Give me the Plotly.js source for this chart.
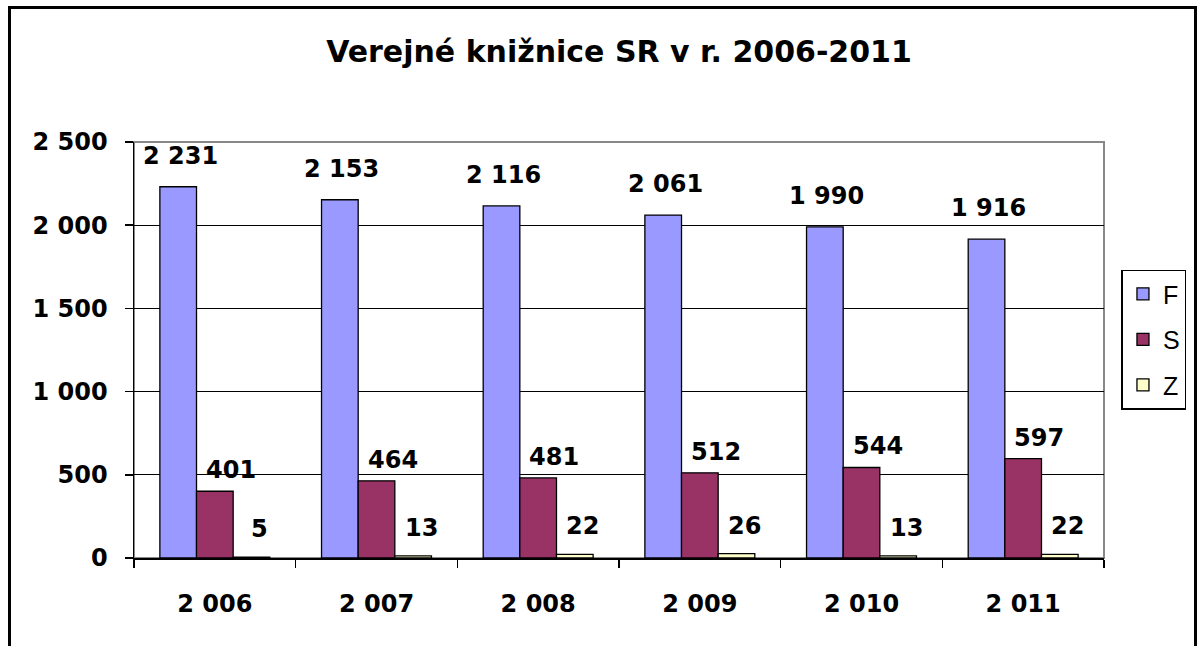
<!DOCTYPE html>
<html>
<head>
<meta charset="utf-8">
<script src="https://cdn.plot.ly/plotly-3.0.1.min.js"></script>
<style>
html,body{margin:0;padding:0;background:#fff;}
#wrap{position:relative;width:1199px;height:646px;}
#chart{width:1199px;height:646px;}
#frame{position:absolute;left:8px;top:6px;width:1189px;height:646px;border:3px solid #000;box-sizing:border-box;pointer-events:none;}
</style>
</head>
<body>
<div id="wrap"><div id="chart"></div><div id="frame"></div></div>
<script>
const categories = ["2 006", "2 007", "2 008", "2 009", "2 010", "2 011"];
const seriesNames = ["F", "S", "Z"];
const valuesF = [2231, 2153, 2116, 2061, 1990, 1916];
const valuesS = [401, 464, 481, 512, 544, 597];
const valuesZ = [5, 13, 22, 26, 13, 22];
const labelF = ["2 231", "2 153", "2 116", "2 061", "1 990", "1 916"];
const labelS = ["401", "464", "481", "512", "544", "597"];
const labelZ = ["5", "13", "22", "26", "13", "22"];
const yTickVals = [0, 500, 1000, 1500, 2000, 2500];
const yTickText = ["0", "500", "1 000", "1 500", "2 000", "2 500"];

const colors = ["#9999FF", "#993366", "#FFFFCC"];
const allValues = [valuesF, valuesS, valuesZ];
const allLabels = [labelF, labelS, labelZ];
const boldFont = "DejaVu Sans, Liberation Sans, Arial, sans-serif";

const traces = allValues.map((vals, j) => ({
  type: "bar",
  name: seriesNames[j],
  legendgroup: "g" + j,
  x: categories,
  y: vals,
  marker: {color: colors[j], line: {color: "#000", width: 1.3}},
  hoverinfo: "none"
}));

const barPx = 36.7;
const xShifts = [2, 16, 8];
const yShifts = [31, 21, 28];
const annotations = [];
allValues.forEach((vals, j) => {
  vals.forEach((v, i) => {
    annotations.push({
      x: categories[i], y: v, xref: "x", yref: "y",
      text: allLabels[j][i], showarrow: false,
      xshift: (j - 1) * barPx + xShifts[j], yshift: yShifts[j],
      font: {family: boldFont, size: 24, color: "#000", weight: "bold"}
    });
  });
});

const layout = {
  width: 1199, height: 646,
  margin: {l: 134, r: 95, t: 142, b: 88, pad: 0},
  paper_bgcolor: "#fff", plot_bgcolor: "#fff",
  font: {family: "Liberation Sans, Arial, sans-serif", color: "#000"},
  title: {text: "Verejné knižnice SR v r. 2006-2011", x: 0.5, xref: "paper", y: 0.937, yref: "container",
          font: {family: boldFont, size: 30, weight: "bold", color: "#000"}},
  barmode: "group", bargap: 0.32, bargroupgap: 0,
  xaxis: {type: "category", showgrid: false, showline: true, linecolor: "#000", linewidth: 1.5,
          ticks: "outside", ticklen: 8, tickcolor: "#000", tickwidth: 1.5, tickson: "boundaries",
          ticklabelstandoff: 24,
          tickfont: {family: boldFont, size: 24, weight: "bold", color: "#000"}, fixedrange: true},
  yaxis: {range: [0, 2500], tickvals: yTickVals, ticktext: yTickText, showgrid: true, gridcolor: "#000", gridwidth: 1.3,
          showline: true, linecolor: "#000", linewidth: 1.5, ticks: "outside", ticklen: 8, tickcolor: "#000", tickwidth: 1.5,
          ticklabelstandoff: 12, zeroline: false,
          tickfont: {family: boldFont, size: 24, weight: "bold", color: "#000"}, fixedrange: true},
  legend: {x: 1.018, xanchor: "left", y: 0.525, yanchor: "middle", bordercolor: "#000", borderwidth: 1.5,
           bgcolor: "#fff", font: {size: 25, color: "#000"}, itemwidth: 30, tracegroupgap: 10,
           traceorder: "grouped"},
  showlegend: true,
  shapes: [{type: "rect", xref: "paper", yref: "paper", x0: 0, x1: 1, y0: 0, y1: 1,
            line: {color: "#888", width: 2}, layer: "below"}],
  annotations: annotations
};

Plotly.newPlot("chart", traces, layout, {displayModeBar: false, staticPlot: true});
</script>
</body>
</html>
